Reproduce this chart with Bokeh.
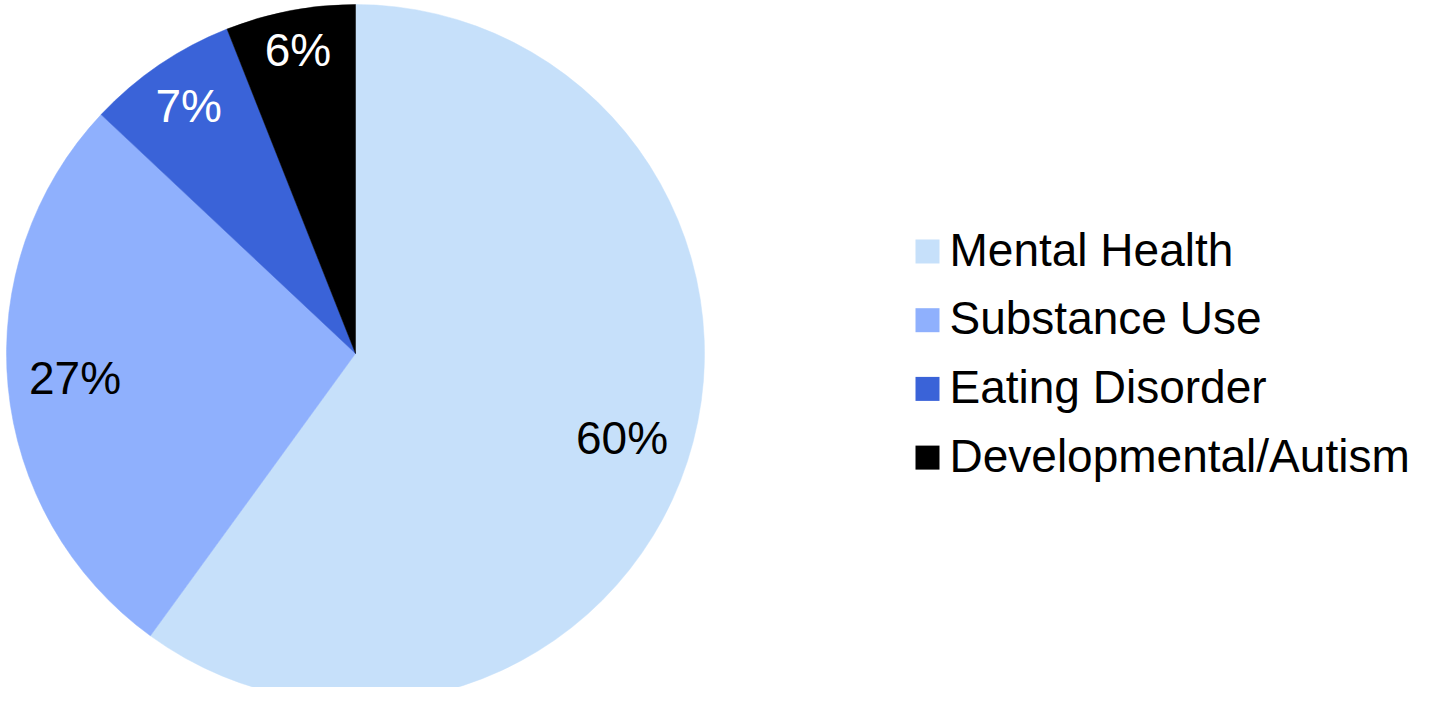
import math
from bokeh.plotting import figure
from bokeh.models import Range1d, ColumnDataSource
from bokeh.core.properties import value
from bokeh.embed import file_html
from bokeh.resources import INLINE

# ---- data ----
categories = ["Mental Health", "Substance Use", "Eating Disorder", "Developmental/Autism"]
shares = [60, 27, 7, 6]
labels = ["60%", "27%", "7%", "6%"]
colors = ["#C6E0FA", "#8FB0FD", "#3A63D8", "#000000"]
label_colors = ["#000000", "#000000", "#FFFFFF", "#FFFFFF"]

# ---- layout ----
W, H = 1420, 687
TOP = 703                      # data y = TOP - pixel row
FONT = "Liberation Sans"
LBL_FS = 46
LEG_FS = 46
CX, CY, R = 355, TOP - 353, 349
R_OUT = 0.943 * R              # outer reach of label boxes

# approximate Arial advance widths (em) for the label glyphs
CHAR_W = {"0": .556, "1": .556, "2": .556, "3": .556, "4": .556, "5": .556,
          "6": .556, "7": .556, "8": .556, "9": .556, "%": .889}

p = figure(width=W, height=H,
           x_range=Range1d(0, W), y_range=Range1d(TOP - H, TOP),
           x_axis_type=None, y_axis_type=None,
           output_backend="svg", toolbar_location=None, min_border=0)
p.grid.visible = False
p.outline_line_color = None
p.background_fill_color = "white"
p.border_fill_color = "white"

total = float(sum(shares))
starts, ends, mids = [], [], []
cum = 0.0
for s in shares:
    a0 = math.pi / 2 - 2 * math.pi * cum / total
    cum += s
    a1 = math.pi / 2 - 2 * math.pi * cum / total
    starts.append(a0)
    ends.append(a1)
    mids.append((a0 + a1) / 2)

src = ColumnDataSource(dict(
    start=starts, end=ends, color=colors,
    x=[CX] * len(shares), y=[CY] * len(shares)))
p.wedge(x="x", y="y", radius=R, start_angle="start", end_angle="end",
        direction="clock", fill_color="color", line_color="color",
        line_width=0.5, source=src)

lx, ly = [], []
for m, t in zip(mids, labels):
    hw = 0.5 * LBL_FS * sum(CHAR_W.get(c, .556) for c in t)
    hh = 0.5 * 0.716 * LBL_FS
    ext = hw * abs(math.cos(m)) + hh * abs(math.sin(m))
    r = R_OUT - ext
    lx.append(CX + r * math.cos(m))
    ly.append(CY + r * math.sin(m))

lab_src = ColumnDataSource(dict(x=lx, y=ly, text=labels, color=label_colors))
p.text(x="x", y="y", text="text", text_color="color", source=lab_src,
       text_align="center", text_baseline="alphabetic", y_offset=-2,
       text_font=value(FONT), text_font_size=f"{LBL_FS}px")

# ---- legend (manual) ----
LEG_X, LEG_Y0, LEG_STEP, SQ = 927, TOP - 251, 68.7, 24
leg_src = ColumnDataSource(dict(
    x=[LEG_X] * len(categories),
    y=[LEG_Y0 - i * LEG_STEP for i in range(len(categories))],
    tx=[LEG_X + 22] * len(categories),
    text=categories, color=colors))
p.rect(x="x", y="y", width=SQ, height=SQ, fill_color="color",
       line_color=None, source=leg_src)
p.text(x="tx", y="y", text="text", source=leg_src, text_color="#000000",
       text_align="left", text_baseline="alphabetic", y_offset=-2,
       text_font=value(FONT), text_font_size=f"{LEG_FS}px")

open("out.html", "w").write(file_html(p, INLINE))
